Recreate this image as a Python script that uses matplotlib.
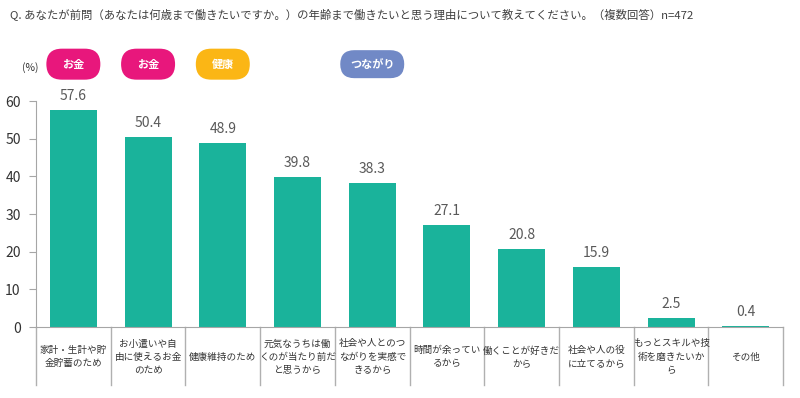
import numpy as np
import matplotlib.pyplot as plt
import matplotlib.transforms as mtransforms
from matplotlib.patches import FancyBboxPatch

plt.rcParams['font.family'] = ['Noto Sans CJK JP', 'DejaVu Sans']

labels = [
    '家計・生計や貯\n金貯蓄のため',
    'お小遣いや自\n由に使えるお金\nのため',
    '健康維持のため',
    '元気なうちは働\nくのが当たり前だ\nと思うから',
    '社会や人とのつ\nながりを実感で\nきるから',
    '時間が余ってい\nるから',
    '働くことが好きだ\nから',
    '社会や人の役\nに立てるから',
    'もっとスキルや技\n術を磨きたいか\nら',
    'その他',
]
values = [57.6, 50.4, 48.9, 39.8, 38.3, 27.1, 20.8, 15.9, 2.5, 0.4]
badges = [(0, 'お金', '#e8177c'), (1, 'お金', '#e8177c'),
          (2, '健康', '#fbb615'), (4, 'つながり', '#7189c6')]

title = 'Q. あなたが前問（あなたは何歳まで働きたいですか。）の年齢まで働きたいと思う理由について教えてください。（複数回答）n=472'

fig = plt.figure(figsize=(8, 3.98), dpi=100)
ax = fig.add_axes([0.045, 0.178, 0.934, 0.568])

x = np.arange(len(values))
ax.bar(x, values, width=0.63, color='#1ab39b')
ax.set_xlim(-0.5, len(values) - 0.5)
ax.set_ylim(0, 60)
ax.set_yticks(range(0, 61, 10))
ax.tick_params(axis='y', labelsize=10, length=5, color='#a6a6a6', labelcolor='#333333', pad=6)
ax.set_xticks([])
for s in ['top', 'right']:
    ax.spines[s].set_visible(False)
ax.spines['left'].set_color('#a6a6a6')
ax.spines['bottom'].set_color('#a6a6a6')

for xi, v in zip(x, values):
    ax.annotate(f'{v:.1f}', (xi, v), xytext=(0, 5), textcoords='offset points',
                ha='center', va='bottom', fontsize=10, color='#595959')

trans = mtransforms.blended_transform_factory(ax.transData, ax.transAxes)
for b in np.arange(len(values) + 1) - 0.5:
    ax.plot([b, b], [0, -0.257], transform=trans, color='#b0b0b0', lw=1, clip_on=False)
for xi, lab in zip(x, labels):
    ax.text(xi, -0.133, lab, transform=trans, ha='center', va='center',
            fontsize=6.9, color='#333333', linespacing=1.6)

# rounded badges, sized in pixels
for xi, txt, col in badges:
    w, h = (54, 31) if len(txt) == 2 else (64, 28)
    t = mtransforms.Affine2D() + mtransforms.ScaledTranslation(xi, 69.8, ax.transData)
    p = FancyBboxPatch((-w / 2, -h / 2), w, h, boxstyle=f'round,pad=0,rounding_size={h / 2}',
                       fc=col, ec='none', transform=t, clip_on=False)
    ax.add_artist(p)
    ax.text(xi, 69.8, txt, ha='center', va='center', fontsize=8, color='white',
            fontweight='bold', clip_on=False)

fig.text(0.038, 0.831, '(%)', ha='center', va='center', fontsize=7.5, color='#333333')
fig.text(0.012, 0.965, title, ha='left', va='center', fontsize=8.2, color='#404040')

fig.savefig('out.png', dpi=100)
